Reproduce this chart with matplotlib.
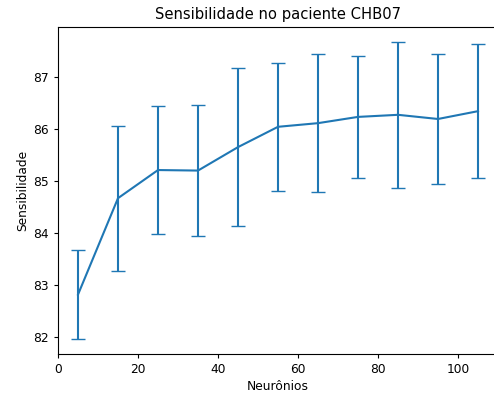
import matplotlib
matplotlib.use("Agg")
import matplotlib.pyplot as plt

neurons = [5, 15, 25, 35, 45, 55, 65, 75, 85, 95, 105]
mean_sens = [82.82, 84.67, 85.21, 85.20, 85.65, 86.04, 86.11, 86.23, 86.27, 86.19, 86.34]
err_sens = [0.855, 1.39, 1.23, 1.25, 1.51, 1.23, 1.32, 1.17, 1.40, 1.24, 1.28]

plt.rcParams['font.size'] = 8.8
plt.rcParams['xtick.major.size'] = 3.1
plt.rcParams['ytick.major.size'] = 3.1
fig = plt.figure(figsize=(4.94, 3.98), dpi=100)
ax = fig.add_axes([58/494, 1-354/398, 440/494, 327/398])
ax.errorbar(neurons, mean_sens, yerr=err_sens, capsize=5)
ax.set_title("Sensibilidade no paciente CHB07", fontsize=10.6)
ax.set_xlabel("Neurônios", labelpad=2.5)
ax.set_ylabel("Sensibilidade", labelpad=2.5)
fig.savefig("out.png", dpi=100)
